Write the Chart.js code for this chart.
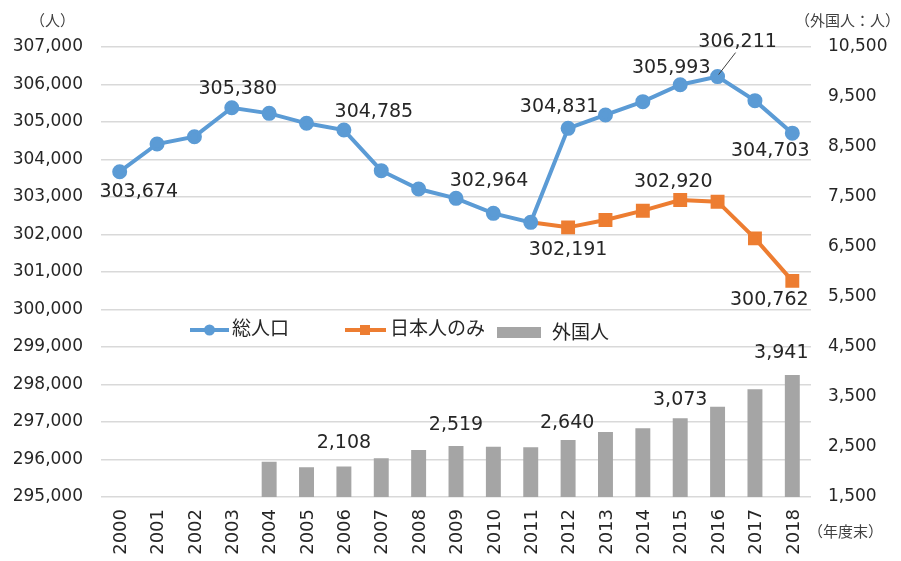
<!DOCTYPE html>
<html>
<head>
<meta charset="utf-8">
<script src="https://cdn.jsdelivr.net/npm/chart.js@4/dist/chart.umd.min.js"></script>
<style>
  body { margin: 0; background: #fff; }
  #wrap { width: 901px; height: 561px; position: relative; }
  .yr { position: absolute; width: 0; height: 0; }
  .yr span {
    position: absolute; right: 0; top: 0;
    transform: translateY(-50%) rotate(-90deg);
    transform-origin: right center;
    white-space: nowrap;
    font: 18px 'DejaVu Sans', sans-serif;
    color: #262626;
  }
</style>
</head>
<body>
<div id="wrap"><canvas id="popChart"></canvas></div>
<script>
// years (年度末)
const years = ["2000", "2001", "2002", "2003", "2004", "2005", "2006", "2007", "2008", "2009",
    "2010", "2011", "2012", "2013", "2014", "2015", "2016", "2017", "2018"];

// 総人口 (left axis)
const totalPop = [303674, 304413, 304608, 305380, 305231, 304965, 304785, 303702, 303213, 302964,
    302564, 302324, 304831, 305187, 305542, 305993, 306211, 305569, 304703];

// 日本人のみ (left axis), starts 2011
const japaneseOnly = [null, null, null, null, null, null, null, null, null, null,
    null, 302324, 302191, 302387, 302635, 302920, 302875, 301898, 300762];

// 外国人 (right axis), starts 2004
const foreigners = [null, null, null, null, 2207, 2093, 2108, 2273, 2440, 2519,
    2507, 2493, 2640, 2800, 2873, 3073, 3307, 3653, 3941];

const FONT = "'DejaVu Sans', 'Noto Sans CJK JP', sans-serif";
const TEXT = "#262626";
const BLUE = "#5B9BD5";
const ORANGE = "#ED7D31";
const GREY = "#A5A5A5";

const fmt = (v) => v.toLocaleString("en-US");

// which points get a value label, and where it sits relative to the point
const labelSpecs = [
    { ds: 0, i: 0, dx: 19, dy: 20 },
    { ds: 0, i: 3, dx: 6, dy: -19 },
    { ds: 0, i: 6, dx: 30, dy: -18 },
    { ds: 0, i: 9, dx: 33, dy: -17 },
    { ds: 0, i: 12, dx: -9, dy: -21 },
    { ds: 0, i: 15, dx: -9, dy: -17 },
    { ds: 0, i: 16, dx: 20, dy: -35, leader: true },
    { ds: 0, i: 18, dx: -22, dy: 18 },
    { ds: 1, i: 12, dx: 0, dy: 23 },
    { ds: 1, i: 15, dx: -7, dy: -18 },
    { ds: 1, i: 18, dx: -23, dy: 19 },
    { ds: 2, i: 6, dx: 0, dy: -24 },
    { ds: 2, i: 9, dx: 0, dy: -21 },
    { ds: 2, i: 12, dx: -1, dy: -17 },
    { ds: 2, i: 15, dx: 0, dy: -18 },
    { ds: 2, i: 18, dx: -11, dy: -22 }
];

const valueLabels = {
    id: "valueLabels",
    afterDatasetsDraw(chart) {
        const ctx = chart.ctx;
        ctx.save();
        ctx.font = "19px " + FONT;
        ctx.fillStyle = TEXT;
        ctx.textAlign = "center";
        ctx.textBaseline = "middle";
        labelSpecs.forEach((s) => {
            const el = chart.getDatasetMeta(s.ds).data[s.i];
            const val = chart.data.datasets[s.ds].data[s.i];
            const x = el.x + s.dx;
            const y = el.y + s.dy;
            ctx.fillText(fmt(val), x, y);
            if (s.leader) {
                ctx.strokeStyle = "#404040";
                ctx.lineWidth = 1;
                ctx.beginPath();
                ctx.moveTo(el.x + 1, el.y - 2);
                ctx.lineTo(x - 2, y + 11);
                ctx.stroke();
            }
        });
        ctx.restore();
    }
};

// legend drawn inside the plot + axis unit notes
const extras = {
    id: "extras",
    afterDraw(chart) {
        const ctx = chart.ctx;
        ctx.save();
        ctx.fillStyle = TEXT;
        ctx.textBaseline = "middle";
        ctx.font = "19px " + FONT;
        const ly = 330;
        // 総人口
        ctx.strokeStyle = BLUE;
        ctx.lineWidth = 4;
        ctx.beginPath(); ctx.moveTo(190, ly); ctx.lineTo(229, ly); ctx.stroke();
        ctx.fillStyle = BLUE;
        ctx.beginPath(); ctx.arc(209.5, ly, 5.5, 0, Math.PI * 2); ctx.fill();
        ctx.fillStyle = TEXT;
        ctx.textAlign = "left";
        ctx.fillText("総人口", 232, ly);
        // 日本人のみ
        ctx.strokeStyle = ORANGE;
        ctx.beginPath(); ctx.moveTo(345, ly); ctx.lineTo(386, ly); ctx.stroke();
        ctx.fillStyle = ORANGE;
        ctx.fillRect(360, ly - 5, 10, 10);
        ctx.fillStyle = TEXT;
        ctx.fillText("日本人のみ", 390, ly);
        // 外国人
        ctx.fillStyle = GREY;
        ctx.fillRect(497, ly - 3, 44, 11);
        ctx.fillStyle = TEXT;
        ctx.fillText("外国人", 552, ly + 4);

        ctx.font = "15px " + FONT;
        ctx.fillStyle = "#404040";
        ctx.textAlign = "left";
        ctx.fillText("（人）", 30, 22);
        ctx.textAlign = "right";
        ctx.fillText("（外国人：人）", 900, 22);
        ctx.textAlign = "left";
        ctx.fillText("（年度末）", 808, 533);
        ctx.restore();
    }
};

const chart = new Chart(document.getElementById("popChart"), {
    type: "bar",
    data: {
        labels: years,
        datasets: [
            {
                type: "line",
                label: "総人口",
                data: totalPop,
                yAxisID: "y",
                borderColor: BLUE,
                backgroundColor: BLUE,
                borderWidth: 4,
                pointRadius: 5.5,
                pointHoverRadius: 5.5,
                tension: 0,
                order: 1
            },
            {
                type: "line",
                label: "日本人のみ",
                data: japaneseOnly,
                yAxisID: "y",
                borderColor: ORANGE,
                backgroundColor: ORANGE,
                borderWidth: 4,
                pointStyle: "rect",
                pointRadius: japaneseOnly.map((v, i) => (i === 11 ? 0 : 7)),
                tension: 0,
                order: 2
            },
            {
                type: "bar",
                label: "外国人",
                data: foreigners,
                yAxisID: "y1",
                backgroundColor: GREY,
                categoryPercentage: 1,
                barPercentage: 0.4,
                order: 3
            }
        ]
    },
    options: {
        responsive: true,
        maintainAspectRatio: false,
        animation: false,
        layout: { padding: { top: 47 } },
        plugins: {
            legend: { display: false },
            tooltip: { enabled: false }
        },
        scales: {
            x: {
                offset: true,
                grid: { display: false, drawTicks: false },
                border: { display: false },
                ticks: { display: false, autoSkip: false },
                afterFit: (s) => { s.height = 64; }
            },
            y: {
                position: "left",
                min: 295000,
                max: 307000,
                grid: { color: "#D9D9D9", lineWidth: 1.5, drawTicks: false },
                border: { display: false },
                ticks: {
                    stepSize: 1000,
                    padding: 18,
                    color: TEXT,
                    font: { family: FONT, size: 17 },
                    callback: (v) => fmt(v)
                },
                afterFit: (s) => { s.width = 101; }
            },
            y1: {
                position: "right",
                min: 1500,
                max: 10500,
                grid: { display: false, drawTicks: false },
                border: { display: false },
                ticks: {
                    stepSize: 1000,
                    padding: 17,
                    color: TEXT,
                    font: { family: FONT, size: 17 },
                    callback: (v) => fmt(v)
                },
                afterFit: (s) => { s.width = 90; }
            }
        }
    },
    plugins: [valueLabels, extras]
});

// vertical year labels as HTML, placed on the x scale's tick positions
const wrap = document.getElementById("wrap");
const xs = chart.scales.x;
years.forEach((y, i) => {
    const d = document.createElement("div");
    d.className = "yr";
    d.style.left = xs.getPixelForTick(i) + "px";
    d.style.top = (xs.top + 12) + "px";
    const s = document.createElement("span");
    s.textContent = y;
    d.appendChild(s);
    wrap.appendChild(d);
});
</script>
</body>
</html>
